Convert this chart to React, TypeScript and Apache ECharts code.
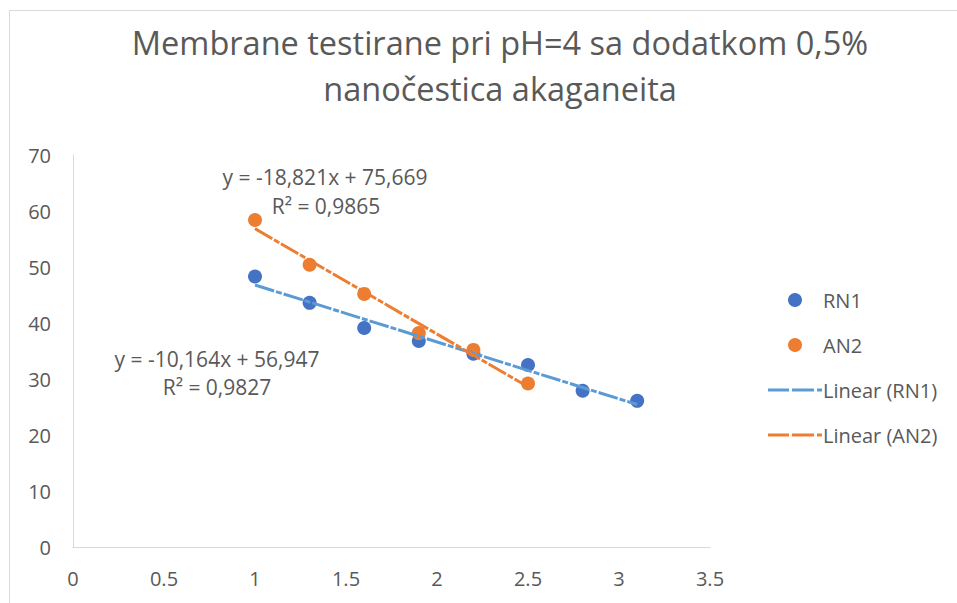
import React, { useEffect, useRef } from "react";
import * as echarts from "echarts";

const titleLines = ["Membrane testirane pri pH=4 sa dodatkom 0,5%", "nanočestica akaganeita"];

const rn1X = [1, 1.3, 1.6, 1.9, 2.2, 2.5, 2.8, 3.1];
const rn1Y = [48.3, 43.6, 39.1, 36.8, 34.5, 32.5, 27.9, 26.1];
const an2X = [1, 1.3, 1.6, 1.9, 2.2, 2.5];
const an2Y = [58.4, 50.4, 45.2, 38.2, 35.2, 29.2];

// trendline coefficients as printed on the chart
const rn1Fit = { slope: -10.164, intercept: 56.947, r2: "0,9827", eq: "y = -10,164x + 56,947" };
const an2Fit = { slope: -18.821, intercept: 75.669, r2: "0,9865", eq: "y = -18,821x + 75,669" };

const xTicks = { min: 0, max: 3.5, interval: 0.5 };
const yTicks = { min: 0, max: 70, interval: 10 };

const FONT = "'Open Sans', sans-serif";
const TXT = "#595959";
const DASH_ICON = "path://M0 0H21V3H0Z M24 0H46V3H24Z M49 0H54V3H49Z";

function trend(xs: number[], fit: { slope: number; intercept: number }) {
  const x0 = Math.min(...xs);
  const x1 = Math.max(...xs);
  return [
    [x0, fit.slope * x0 + fit.intercept],
    [x1, fit.slope * x1 + fit.intercept],
  ];
}

export default function App() {
  const ref = useRef<HTMLDivElement>(null);
  useEffect(() => {
    if (!ref.current) return;
    const chart = echarts.init(ref.current, null, { renderer: "svg" });
    const dash = [20, 2, 6, 2];
    chart.setOption({
      animation: false,
      backgroundColor: "#ffffff",
      grid: { left: 73, right: 247, top: 155, bottom: 56, containLabel: false },
      xAxis: {
        type: "value",
        min: xTicks.min,
        max: xTicks.max,
        interval: xTicks.interval,
        axisLine: { show: true, lineStyle: { color: "#d9d9d9", width: 1 } },
        axisTick: { show: false },
        splitLine: { show: false },
        axisLabel: { color: TXT, fontSize: 20, fontFamily: FONT, margin: 21 },
      },
      yAxis: {
        type: "value",
        min: yTicks.min,
        max: yTicks.max,
        interval: yTicks.interval,
        axisLine: { show: true, lineStyle: { color: "#d9d9d9", width: 1 } },
        axisTick: { show: false },
        splitLine: { show: false },
        axisLabel: { color: TXT, fontSize: 20, fontFamily: FONT, margin: 22 },
      },
      legend: {
        orient: "vertical",
        left: 763,
        top: 285,
        itemWidth: 54,
        itemHeight: 14,
        itemGap: 25,
        textStyle: { color: TXT, fontSize: 20, fontFamily: FONT, lineHeight: 20, padding: [0, 0, 0, -4] },
        data: [
          { name: "RN1", icon: "circle" },
          { name: "AN2", icon: "circle" },
          { name: "Linear (RN1)", icon: DASH_ICON, itemStyle: { color: "#5B9BD5" } },
          { name: "Linear (AN2)", icon: DASH_ICON, itemStyle: { color: "#ED7D31" } },
        ],
      },
      graphic: [
        {
          type: "rect",
          z: -10,
          silent: true,
          shape: { x: 9.5, y: 10.5, width: 1000, height: 1000 },
          style: { fill: "none", stroke: "#d9d9d9", lineWidth: 1 },
        },
        {
          type: "text",
          x: 500,
          y: 42,
          style: { text: titleLines[0], align: "center", verticalAlign: "middle", fill: TXT, font: `32.5px ${FONT}` },
        },
        {
          type: "text",
          x: 500,
          y: 88,
          style: { text: titleLines[1], align: "center", verticalAlign: "middle", fill: TXT, font: `32.5px ${FONT}` },
        },
        {
          type: "text",
          x: 325,
          y: 177,
          style: { text: an2Fit.eq, align: "center", verticalAlign: "middle", fill: TXT, font: `21px ${FONT}` },
        },
        {
          type: "text",
          x: 326,
          y: 206,
          style: { text: "R² = " + an2Fit.r2, align: "center", verticalAlign: "middle", fill: TXT, font: `21px ${FONT}` },
        },
        {
          type: "text",
          x: 217,
          y: 359,
          style: { text: rn1Fit.eq, align: "center", verticalAlign: "middle", fill: TXT, font: `21px ${FONT}` },
        },
        {
          type: "text",
          x: 217,
          y: 387,
          style: { text: "R² = " + rn1Fit.r2, align: "center", verticalAlign: "middle", fill: TXT, font: `21px ${FONT}` },
        },
      ],
      series: [
        {
          name: "RN1",
          type: "scatter",
          symbol: "circle",
          symbolSize: 14,
          itemStyle: { color: "#4472C4", opacity: 1 },
          data: rn1X.map((x, i) => [x, rn1Y[i]]),
          z: 2,
        },
        {
          name: "AN2",
          type: "scatter",
          symbol: "circle",
          symbolSize: 14,
          itemStyle: { color: "#ED7D31", opacity: 1 },
          data: an2X.map((x, i) => [x, an2Y[i]]),
          z: 2,
        },
        {
          name: "Linear (RN1)",
          type: "line",
          symbol: "none",
          showSymbol: false,
          color: "#5B9BD5",
          lineStyle: { color: "#5B9BD5", width: 3, type: dash },
          data: trend(rn1X, rn1Fit),
          z: 3,
        },
        {
          name: "Linear (AN2)",
          type: "line",
          symbol: "none",
          showSymbol: false,
          color: "#ED7D31",
          lineStyle: { color: "#ED7D31", width: 3, type: dash },
          data: trend(an2X, an2Fit),
          z: 3,
        },
      ],
    });
    return () => chart.dispose();
  }, []);
  return <div ref={ref} style={{ position: "fixed", left: 0, top: 0, width: 957, height: 603 }} />;
}
